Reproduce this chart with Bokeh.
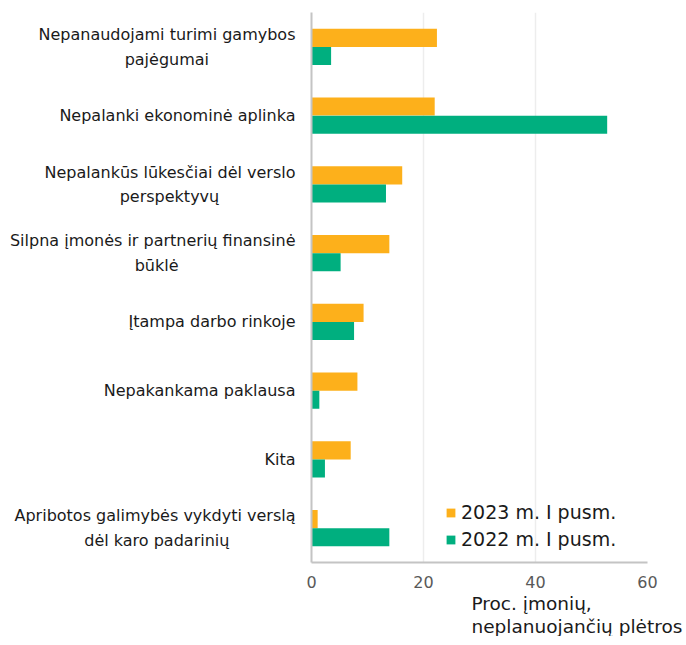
from bokeh.plotting import figure
from bokeh.models import ColumnDataSource, FactorRange, Range1d, Legend, LegendItem, Title, FixedTicker
from bokeh.transform import dodge
from bokeh.embed import file_html
from bokeh.resources import INLINE

categories = [
    "Nepanaudojami turimi gamybos\npajėgumai",
    "Nepalanki ekonominė aplinka",
    "Nepalankūs lūkesčiai dėl verslo\nperspektyvų",
    "Silpna įmonės ir partnerių finansinė\nbūklė",
    "Įtampa darbo rinkoje",
    "Nepakankama paklausa",
    "Kita",
    "Apribotos galimybės vykdyti verslą\ndėl karo padarinių",
]
values_2023 = [22.4, 22.0, 16.2, 13.9, 9.3, 8.2, 7.0, 1.1]
values_2022 = [3.5, 52.8, 13.3, 5.2, 7.6, 1.4, 2.4, 13.9]
x_ticks = [0, 20, 40, 60]
series_labels = ["2023 m. I pusm.", "2022 m. I pusm."]
x_title_lines = ["Proc. įmonių,", "neplanuojančių plėtros"]

# styling: trailing no-break spaces so that the second line of a wrapped label
# sits centred under the first (axis labels are right-aligned line by line)
second_line_pad = [17, 0, 15, 23, 0, 0, 0, 13]

FONT = "DejaVu Sans"
ORANGE = "#FDB01B"
GREEN = "#00AF7F"

display = []
for c, n in zip(categories, second_line_pad):
    display.append(c + "\u00a0" * n if "\n" in c else c)

src = ColumnDataSource(dict(cat=display, v23=values_2023, v22=values_2022))

p = figure(
    y_range=FactorRange(*reversed(display), range_padding=0),
    x_range=Range1d(0, 60),
    frame_width=336, frame_height=550,
    min_border_left=311, min_border_right=36, min_border_top=12, min_border_bottom=10,
    output_backend="svg", toolbar_location=None,
)

bh = 0.262
r23 = p.hbar(y=dodge("cat", bh / 2, range=p.y_range), right="v23", left=0, height=bh,
             source=src, fill_color=ORANGE, line_color=None)
r22 = p.hbar(y=dodge("cat", -bh / 2, range=p.y_range), right="v22", left=0, height=bh,
             source=src, fill_color=GREEN, line_color=None)

p.outline_line_color = None
p.ygrid.grid_line_color = None
p.xgrid.grid_line_color = "#EDEDED"
p.xgrid.grid_line_width = 1.5
p.xaxis.ticker = FixedTicker(ticks=x_ticks)

for ax in (p.xaxis, p.yaxis):
    ax.axis_line_color = "#C4C4C4"
    ax.axis_line_width = 2
    ax.major_tick_line_color = None
    ax.minor_tick_line_color = None
    ax.major_label_text_font = FONT
    ax.major_label_text_font_size = "16px"

p.xaxis.major_label_text_color = "#595959"
p.xaxis.major_label_standoff = 7
p.yaxis.major_label_text_color = "#1a1a1a"
p.yaxis.major_label_standoff = 10
p.yaxis.major_label_text_line_height = 1.3

legend = Legend(
    items=[LegendItem(label=series_labels[0], renderers=[r23]),
           LegendItem(label=series_labels[1], renderers=[r22])],
    location=(134, 12),
    label_text_font=FONT, label_text_font_size="19px", label_text_color="#1a1a1a",
    glyph_width=11, glyph_height=11, label_standoff=5, label_height=22, spacing=5,
    padding=0, margin=0, border_line_color=None, background_fill_alpha=0,
)
p.add_layout(legend, "center")

for i, line in enumerate(x_title_lines):
    t = Title(text=line, align="left", offset=160, text_font=FONT, text_font_size="18.5px",
              text_color="#1a1a1a", text_font_style="normal", standoff=0)
    p.add_layout(t, "below")

open("out.html", "w").write(file_html(p, INLINE))
